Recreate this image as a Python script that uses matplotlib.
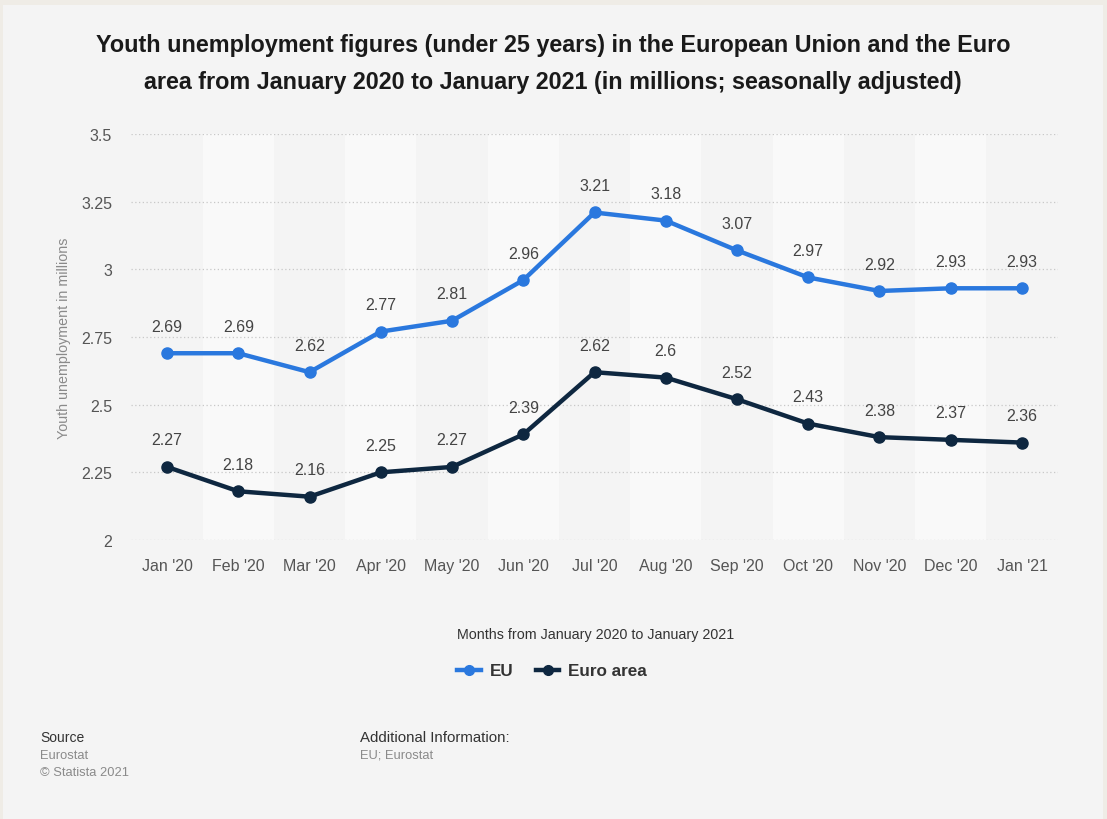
import matplotlib.pyplot as plt
from matplotlib.patches import Rectangle
from matplotlib.lines import Line2D

months = ["Jan '20", "Feb '20", "Mar '20", "Apr '20", "May '20", "Jun '20", "Jul '20",
          "Aug '20", "Sep '20", "Oct '20", "Nov '20", "Dec '20", "Jan '21"]
eu = [2.69, 2.69, 2.62, 2.77, 2.81, 2.96, 3.21, 3.18, 3.07, 2.97, 2.92, 2.93, 2.93]
euro_area = [2.27, 2.18, 2.16, 2.25, 2.27, 2.39, 2.62, 2.6, 2.52, 2.43, 2.38, 2.37, 2.36]
y_ticks = [2, 2.25, 2.5, 2.75, 3, 3.25, 3.5]
y_tick_labels = ['2', '2.25', '2.5', '2.75', '3', '3.25', '3.5']

EU_BLUE = '#2a78de'
NAVY = '#0e2740'

plt.rcParams['font.family'] = ['Liberation Sans', 'DejaVu Sans']

fig = plt.figure(figsize=(11.07, 8.2), dpi=100)
fig.patch.set_facecolor('#efece6')
# light card behind everything
fig.patches.append(Rectangle((3 / 1107, 0), 1100 / 1107, 1 - 6 / 820,
                             transform=fig.transFigure, facecolor='#f4f4f4',
                             edgecolor='none', zorder=-10))

ax = fig.add_axes([131.4 / 1107, 1 - 541 / 820, 926.2 / 1107, 406 / 820])
ax.set_facecolor('#f4f4f4')
x = list(range(len(months)))

# alternate column shading
for i in x:
    if i % 2 == 1:
        ax.axvspan(i - 0.5, i + 0.5, color='#f9f9f9', zorder=0, lw=0)

for yt in y_ticks:
    ax.axhline(yt, color='#c8c8c8', lw=0.9, ls=(0, (1, 2)), zorder=1)

ax.plot(x, eu, color=EU_BLUE, lw=3.2, marker='o', ms=8, zorder=3,
        solid_joinstyle='round', solid_capstyle='round')
ax.plot(x, euro_area, color=NAVY, lw=3.2, marker='o', ms=8, zorder=3,
        solid_joinstyle='round', solid_capstyle='round')

for xi, v in zip(x, eu):
    ax.annotate(f'{v:g}', (xi, v), textcoords='offset points', xytext=(0, 14),
                ha='center', va='bottom', fontsize=11.5, color='#444444')
for xi, v in zip(x, euro_area):
    ax.annotate(f'{v:g}', (xi, v), textcoords='offset points', xytext=(0, 14),
                ha='center', va='bottom', fontsize=11.5, color='#444444')

ax.set_xlim(-0.5, len(months) - 0.5)
ax.set_ylim(2, 3.5)
ax.set_xticks(x)
ax.set_xticklabels(months, fontsize=11.5, color='#555555')
ax.set_yticks(y_ticks)
ax.set_yticklabels(y_tick_labels, fontsize=11.5, color='#555555')
ax.tick_params(length=0, pad=13)
ax.tick_params(axis='y', pad=14)
for s in ax.spines.values():
    s.set_visible(False)

ax.set_ylabel('Youth unemployment in millions', fontsize=10.3, color='#8a8a8a')
ax.yaxis.set_label_coords(-60 / 926.2, 0.5)

fig.text(553 / 1107, 1 - 64 / 820,
         'Youth unemployment figures (under 25 years) in the European Union and the Euro\n'
         'area from January 2020 to January 2021 (in millions; seasonally adjusted)',
         ha='center', va='center', fontsize=16.8, fontweight='bold', color='#1a1a1a',
         linespacing=1.75)

fig.text(596 / 1107, 1 - 635 / 820, 'Months from January 2020 to January 2021',
         ha='center', va='center', fontsize=10.3, color='#333333')

handles = [Line2D([0], [0], color=EU_BLUE, lw=3.2, marker='o', ms=7),
           Line2D([0], [0], color=NAVY, lw=3.2, marker='o', ms=7)]
leg = fig.legend(handles, ['EU', 'Euro area'], loc='center',
                 bbox_to_anchor=(552 / 1107, 1 - 672 / 820), ncol=2, frameon=False,
                 prop={'size': 12.3, 'weight': 'bold'}, handlelength=1.4,
                 handletextpad=0.5, columnspacing=1.3)
for t in leg.get_texts():
    t.set_color('#333333')

fig.text(40 / 1107, 1 - 738 / 820, 'Source', ha='left', va='center', fontsize=10, color='#333333')
fig.text(40 / 1107, 1 - 756 / 820, 'Eurostat', ha='left', va='center', fontsize=9.3, color='#8a8a8a')
fig.text(40 / 1107, 1 - 773 / 820, '© Statista 2021', ha='left', va='center', fontsize=9.3, color='#8a8a8a')
fig.text(360 / 1107, 1 - 738 / 820, 'Additional Information:', ha='left', va='center', fontsize=10.8, color='#333333')
fig.text(360 / 1107, 1 - 756 / 820, 'EU; Eurostat', ha='left', va='center', fontsize=9.3, color='#8a8a8a')

fig.savefig('out.png', dpi=100, facecolor=fig.get_facecolor())
